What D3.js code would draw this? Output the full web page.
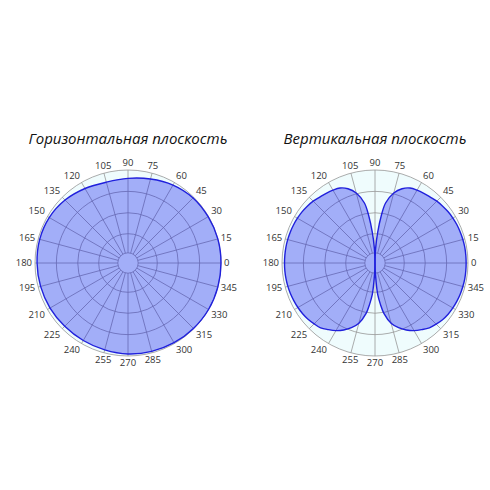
<!DOCTYPE html>
<meta charset="utf-8">
<style>
body { margin: 0; background: #fff; }
.grid circle, .grid line { fill: none; stroke: #979797; stroke-width: 0.8px; }
.tick { font: 9.5px "Open Sans", sans-serif; fill: #333; }
.title { font: italic 15px "Open Sans", sans-serif; fill: #111; }
</style>
<svg width="490" height="490"></svg>
<script src="https://d3js.org/d3.v7.min.js"></script>
<script>

// angle tick labels (degrees, counter-clockwise from 3 o'clock)
var angleTicks = [0, 15, 30, 45, 60, 75, 90, 105, 120, 135, 150, 165,
                  180, 195, 210, 225, 240, 255, 270, 285, 300, 315, 330, 345];

// grid rings, as a fraction of full scale
var rings = [0.11, 0.315, 0.54, 0.77, 1];

// horizontal plane pattern, one value per 15 degrees
var hAngles = angleTicks;
var hGain = [1.0, 1.0, 0.995, 0.99, 0.968, 0.935, 0.91, 0.9, 0.925, 0.957, 0.978, 0.983,
             0.978, 0.973, 0.968, 0.962, 0.962, 0.967, 0.978, 0.984, 0.99, 0.995, 1.0, 1.0];

// vertical plane pattern (finer steps near the nulls at 90 and 270)
var vAngles = [0, 5, 10, 15, 20, 25, 30, 35, 40, 45, 50, 55, 60, 65, 70, 75, 80, 82.5, 85, 87.5,
               90, 92.5, 95, 97.5, 100, 105, 110, 115, 120, 125, 130, 135, 140, 145, 150, 155, 160, 165, 170, 175,
               180, 185, 190, 195, 200, 205, 210, 215, 220, 225, 230, 235, 240, 245, 250, 255, 260, 262.5, 265, 267.5,
               270, 272.5, 275, 277.5, 280, 285, 290, 295, 300, 305, 310, 315, 320, 325, 330, 335, 340, 345, 350, 355];
var vGain = [0.98, 0.98, 0.98, 0.978, 0.975, 0.972, 0.967, 0.96, 0.95, 0.94, 0.925, 0.915, 0.905, 0.89, 0.85, 0.78, 0.655, 0.51, 0.33, 0.16,
             0, 0.16, 0.33, 0.51, 0.655, 0.78, 0.85, 0.89, 0.905, 0.915, 0.925, 0.94, 0.95, 0.958, 0.963, 0.967, 0.97, 0.972, 0.973, 0.973,
             0.973, 0.973, 0.972, 0.97, 0.967, 0.962, 0.957, 0.95, 0.94, 0.925, 0.91, 0.875, 0.84, 0.795, 0.74, 0.67, 0.55, 0.45, 0.345, 0.13,
             0, 0.13, 0.345, 0.45, 0.55, 0.67, 0.74, 0.795, 0.84, 0.875, 0.91, 0.93, 0.948, 0.96, 0.967, 0.972, 0.976, 0.978, 0.98, 0.98];

var svg = d3.select("svg");
var R = 93;

var r = d3.scaleLinear().domain([0, 1]).range([0, R]);

function rad(deg) { return deg * Math.PI / 180; }

var radial = function(curve) {
  return d3.lineRadial()
      .angle(function(d) { return Math.PI / 2 - rad(d[0]); })
      .radius(function(d) { return r(d[1]); })
      .curve(curve);
};

function polar(g, title, lobes, line) {
  g.append("circle").attr("r", R).attr("fill", "#effcfd");

  var grid = g.append("g").attr("class", "grid");
  grid.selectAll("circle")
    .data(rings)
    .enter().append("circle")
      .attr("r", function(d) { return r(d); });
  grid.selectAll("line")
    .data(angleTicks)
    .enter().append("line")
      .attr("x1", function(d) { return r(rings[0]) * Math.cos(rad(d)); })
      .attr("y1", function(d) { return -r(rings[0]) * Math.sin(rad(d)); })
      .attr("x2", function(d) { return r(1) * Math.cos(rad(d)); })
      .attr("y2", function(d) { return -r(1) * Math.sin(rad(d)); });

  g.selectAll(".lobe")
    .data(lobes)
    .enter().append("path")
      .attr("class", "lobe")
      .attr("d", line)
      .attr("fill", "rgb(0,10,240)")
      .attr("fill-opacity", 0.32)
      .attr("stroke", "#2020dc")
      .attr("stroke-width", 1.4);

  g.selectAll(".tick")
    .data(angleTicks)
    .enter().append("text")
      .attr("class", "tick")
      .attr("x", function(d) { return (R + 3) * Math.cos(rad(d)); })
      .attr("y", function(d) { return -(R + 3) * Math.sin(rad(d)); })
      .attr("text-anchor", function(d) {
        var c = Math.cos(rad(d));
        return c > 0.3 ? "start" : c < -0.3 ? "end" : "middle";
      })
      .attr("dy", function(d) {
        var s = Math.sin(rad(d));
        return s > 0.3 ? "-0.1em" : s < -0.3 ? "0.75em" : "0.35em";
      })
      .text(function(d) { return d; });

  g.append("text")
      .attr("class", "title")
      .attr("text-anchor", "middle")
      .attr("y", -119)
      .text(title);
}

var hPts = hAngles.map(function(a, i) { return [a, hGain[i]]; });

// vertical pattern split into its two lobes, each running null to null
var vPts = vAngles.map(function(a, i) { return [a, vGain[i]]; });
var leftLobe = vPts.filter(function(d) { return d[0] >= 90 && d[0] <= 270; });
var rightLobe = vPts.filter(function(d) { return d[0] >= 270; })
    .concat(vPts.filter(function(d) { return d[0] <= 90; })
      .map(function(d) { return [d[0] + 360, d[1]]; }));

polar(svg.append("g").attr("transform", "translate(128,263)"),
      "Горизонтальная плоскость", [hPts], radial(d3.curveCatmullRomClosed));
polar(svg.append("g").attr("transform", "translate(375,263)"),
      "Вертикальная плоскость", [rightLobe, leftLobe], radial(d3.curveCatmullRom.alpha(0.5)));

</script>
